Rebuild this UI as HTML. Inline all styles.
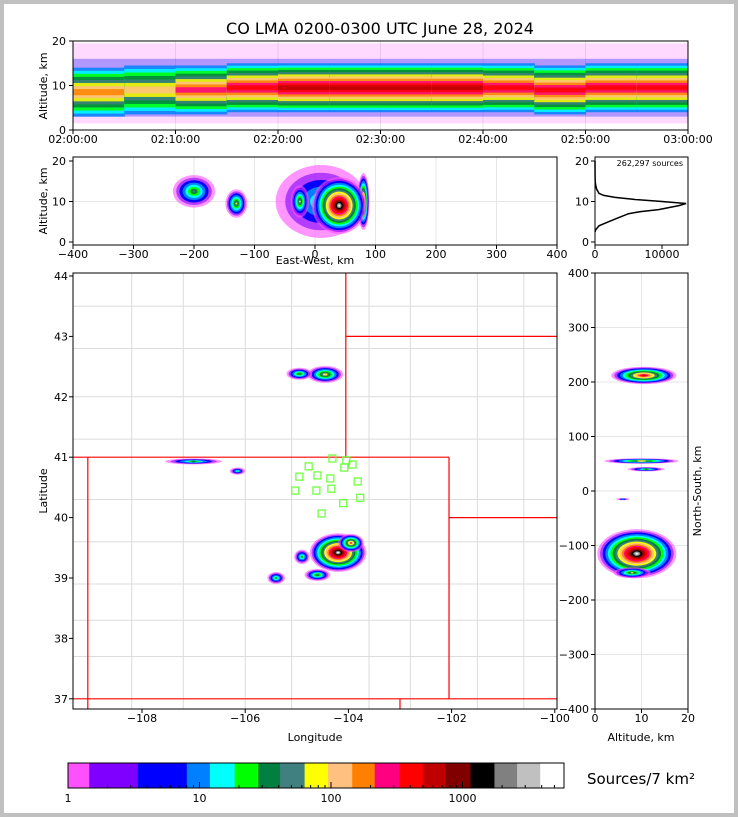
<!DOCTYPE html>
<html><head><meta charset="utf-8"><style>
html,body{margin:0;padding:0;background:#c0c0c0}
svg{display:block;font-family:"DejaVu Sans","Liberation Sans",sans-serif}
</style></head><body>
<svg id="s" width="738" height="817" viewBox="0 0 738 817" xmlns="http://www.w3.org/2000/svg">
<rect x="0" y="0" width="738" height="817" fill="#c0c0c0"/>
<rect x="4" y="4" width="730" height="809" fill="#fff"/>
<text x="380" y="34" font-size="16" text-anchor="middle">CO LMA 0200-0300 UTC June 28, 2024</text>
<g id="g"></g>
</svg>
<script>
// ---- data ----
const colors=["#ff50ff","#8000ff","#0000ff","#0080ff","#00ffff","#00ff00","#008040","#408080","#ffff00","#ffc080","#ff8000","#ff0080","#ff0000","#c00000","#800000","#000000","#808080","#c0c0c0","#ffffff"];
const cbBounds=[1,1.45,3.4,8,12,18.5,28,41,63,95,145,215,330,500,740,1150,1750,2600,3900,5900];
const cbTicks=[1,10,100,1000];
const timeTicks=["02:00:00","02:10:00","02:20:00","02:30:00","02:40:00","02:50:00","03:00:00"];
const timeBins=[0,5,10,15,20,25,30,35,40,45,50,55];
const timeCoreLevel=[10,9,11,12,13,13,13,13,12,12,12,12];
const timeCoreAlt=[8.5,9,9,9.5,9.5,9.5,9.5,9.5,9.5,9,9.5,9.5];
const histAlt=[2.5,3,4,5,6,7,7.5,8,9,9.5,10,10.5,11,11.5,12,13,14,15,16,20];
const histCount=[0,100,600,2000,3500,5000,6800,9500,12500,13600,10000,6000,3000,1300,600,250,100,30,10,0];
// ew clusters: x km, alt km, half-width km, half-height km, peak level
const ewX=[-200,-130,10,80,-25,40];
const ewAlt=[12.5,9.5,10,10,10,9];
const ewRx=[35,18,75,10,15,45];
const ewRy=[4,3.5,9,7,4,7];
const ewPeak=[7,8,5,13,8,18];
// map clusters: lon, lat, rlon, rlat, peak
const mLon=[-104.45,-104.95,-107.0,-106.15,-104.2,-104.9,-105.4,-104.6,-103.95];
const mLat=[42.37,42.38,40.93,40.77,39.42,39.35,39.0,39.05,39.58];
const mRlon=[0.35,0.25,0.55,0.15,0.55,0.15,0.17,0.25,0.25];
const mRlat=[0.14,0.1,0.05,0.06,0.32,0.12,0.1,0.1,0.15];
const mPeak=[9,7,6,5,18,6,6,7,11];
// stations
const stLon=[-104.30,-104.03,-104.76,-104.07,-103.91,-104.94,-104.59,-104.34,-103.81,-105.02,-104.61,-104.32,-103.76,-104.09,-104.51];
const stLat=[40.97,40.94,40.84,40.82,40.87,40.67,40.69,40.64,40.59,40.44,40.44,40.47,40.32,40.23,40.06];
// ns clusters: alt, ns, ralt, rns, peak
const nsAlt=[10.5,10,11,6,9,8];
const nsNs=[212,55,40,-15,-115,-150];
const nsRa=[7,8,4,1.5,8.5,4];
const nsRn=[16,5,4,2,45,10];
const nsPeak=[13,9,6,3,18,8];

// ---- scales ----
const tx=m=>73+m*615/60, ty=a=>130-a*4.45;
const ex=k=>315+k*0.605, ey=a=>242-a*4.05;
const hx=c=>595+c*0.0067;
const mx=l=>142+(l+108)*51.6, my=l=>276+(44-l)*60.4;
const rx=a=>595+a*4.65, ry=n=>491-n*0.545;
const cx=v=>68+Math.log10(v)*131.5;

const NS="http://www.w3.org/2000/svg";
const G=document.getElementById('g');
function mk(tag,at,parent){const e=document.createElementNS(NS,tag);for(const k in at)e.setAttribute(k,at[k]);(parent||G).appendChild(e);return e;}
function txt(x,y,s,size,anchor,parent){const e=mk('text',{x:x,y:y,'font-size':size||11,'text-anchor':anchor||'middle'},parent);e.textContent=s;return e;}
function blob(cxp,cyp,rxp,ryp,peak,parent){
  for(let k=0;k<=peak;k++){
    const f=Math.pow(1-k/(peak+1),1.3);
    const e=mk('ellipse',{cx:cxp,cy:cyp,rx:Math.max(rxp*f,0.8),ry:Math.max(ryp*f,0.8),fill:colors[k],opacity:k<2?0.6:1},parent);
    
    
  }
}
function clip(id,x,y,w,h){const d=mk('clipPath',{id:id});mk('rect',{x:x,y:y,width:w,height:h},d);}
function frame(x,y,w,h,name){const e=mk('rect',{x:x,y:y,width:w,height:h,fill:'none',stroke:'#000','stroke-width':1});}

// ---- top panel ----
clip('c1',73,41,615,89);
const g1=mk('g',{'clip-path':'url(#c1)'});

[0,10,20,30,40,50,60].forEach(m=>mk('line',{x1:tx(m),x2:tx(m),y1:41,y2:130,stroke:'#e6e6e6'},g1));
mk('line',{x1:73,x2:688,y1:ty(10),y2:ty(10),stroke:'#e6e6e6'},g1);
mk('rect',{x:73,y:ty(19.5),width:615,height:ty(1.5)-ty(19.5),fill:'#ff50ff',opacity:0.22},g1);
mk('rect',{x:73,y:ty(16),width:615,height:ty(3)-ty(16),fill:'#0000ff',opacity:0.3},g1);
timeBins.forEach((t,i)=>{
  const lev=timeCoreLevel[i],a=timeCoreAlt[i];
  for(let k=3;k<=lev;k++){
    const h=5.5*Math.pow(1-(k-3)/(lev-2),1.0);
    const r=mk('rect',{x:tx(t),y:ty(a+h),width:tx(t+5)-tx(t)+0.5,height:ty(a-h)-ty(a+h),fill:colors[k],opacity:0.85},g1);
    
  }
});
frame(73,41,615,89,'time-panel-frame');
[0,10,20].forEach(a=>{mk('line',{x1:69,x2:73,y1:ty(a),y2:ty(a),stroke:'#000'});txt(66,ty(a)+4,String(a),11,'end');});
timeTicks.forEach((s,i)=>{mk('line',{x1:tx(i*10),x2:tx(i*10),y1:130,y2:134,stroke:'#000'});txt(tx(i*10),143,s,11);});
const yl1=txt(0,0,'Altitude, km',11);yl1.setAttribute('transform','translate(47,86) rotate(-90)');

// ---- EW panel ----
clip('c2',73,157,484,88);
const g2=mk('g',{'clip-path':'url(#c2)'});

[-400,-300,-200,-100,0,100,200,300,400].forEach(k=>mk('line',{x1:ex(k),x2:ex(k),y1:157,y2:245,stroke:'#e6e6e6'},g2));
mk('line',{x1:73,x2:557,y1:ey(10),y2:ey(10),stroke:'#e6e6e6'},g2);
ewX.forEach((k,i)=>blob(ex(k),ey(ewAlt[i]),ewRx[i]*0.605,ewRy[i]*4.05,ewPeak[i],g2));
frame(73,157,484,88,'ew-panel-frame');
[0,10,20].forEach(a=>{mk('line',{x1:69,x2:73,y1:ey(a),y2:ey(a),stroke:'#000'});txt(66,ey(a)+4,String(a),11,'end');});
[-400,-300,-200,-100,0,100,200,300,400].forEach(k=>{mk('line',{x1:ex(k),x2:ex(k),y1:245,y2:249,stroke:'#000'});txt(ex(k),258,k<0?'\u2212'+(-k):String(k),11);});
txt(315,264,'East-West, km',11);
const yl2=txt(0,0,'Altitude, km',11);yl2.setAttribute('transform','translate(47,201) rotate(-90)');

// ---- histogram ----
const g3=mk('g',{});
const pts=histAlt.map((a,i)=>hx(histCount[i]).toFixed(1)+','+ey(a).toFixed(1)).join(' ');
const pl=mk('polyline',{points:pts,fill:'none',stroke:'#000','stroke-width':1.5},g3);

frame(595,157,93,88,'histogram-frame');
[0,10,20].forEach(a=>{mk('line',{x1:591,x2:595,y1:ey(a),y2:ey(a),stroke:'#000'});txt(589,ey(a)+4,String(a),11,'end');});
[0,10000].forEach(c=>{mk('line',{x1:hx(c),x2:hx(c),y1:245,y2:249,stroke:'#000'});txt(hx(c),258,String(c),11);});
txt(683,166,'262,297 sources',8,'end');

// ---- map ----
clip('c4',73,273,484,436);
const g4=mk('g',{'clip-path':'url(#c4)'});

const countyH=[43.5,42.8,42.0,41.3,40.3,39.6,38.9,38.3,37.7];
const countyV=[-108.2,-107.2,-106.0,-105.1,-103.6,-102.8,-101.5,-100.6];
countyH.forEach(l=>mk('line',{x1:73,x2:557,y1:my(l),y2:my(l),stroke:'#dcdcdc','stroke-width':1},g4));
countyV.forEach(l=>mk('line',{x1:mx(l),x2:mx(l),y1:273,y2:709,stroke:'#dcdcdc','stroke-width':1},g4));
const red=[[-109.05,41,-102.05,41],[-109.4,41,-109.05,41],[-109.05,41,-109.05,36.8],[-102.05,41,-102.05,37],[-109.4,37,-99.9,37],[-104.05,44.1,-104.05,41],[-104.05,43,-99.9,43],[-102.05,40,-99.9,40],[-103,37,-103,36.8]];
red.forEach(r=>mk('line',{x1:mx(r[0]),y1:my(r[1]),x2:mx(r[2]),y2:my(r[3]),stroke:'#ff0000','stroke-width':1.2},g4));
mLon.forEach((l,i)=>blob(mx(l),my(mLat[i]),mRlon[i]*51.6,mRlat[i]*60.4,mPeak[i],g4));
stLon.forEach((l,i)=>{const r=mk('rect',{x:mx(l)-4,y:my(stLat[i])-4,width:7,height:7,fill:'none',stroke:'#66ff33','stroke-width':1.2},g4);});
frame(73,273,484,436,'map-frame');
[37,38,39,40,41,42,43,44].forEach(l=>{mk('line',{x1:69,x2:73,y1:my(l),y2:my(l),stroke:'#000'});txt(68,my(l)+4,String(l),11,'end');});
[-108,-106,-104,-102,-100].forEach(l=>{mk('line',{x1:mx(l),x2:mx(l),y1:709,y2:713,stroke:'#000'});txt(mx(l),722,'\u2212'+(-l),11);});
txt(315,741,'Longitude',11);
const yl4=txt(0,0,'Latitude',11);yl4.setAttribute('transform','translate(47,491) rotate(-90)');

// ---- NS panel ----
clip('c5',595,273,93,436);
const g5=mk('g',{'clip-path':'url(#c5)'});

[-400,-300,-200,-100,0,100,200,300,400].forEach(n=>mk('line',{x1:595,x2:688,y1:ry(n),y2:ry(n),stroke:'#e6e6e6'},g5));
mk('line',{x1:rx(10),x2:rx(10),y1:273,y2:709,stroke:'#e6e6e6'},g5);
nsAlt.forEach((a,i)=>blob(rx(a),ry(nsNs[i]),nsRa[i]*4.65,nsRn[i]*0.545,nsPeak[i],g5));
frame(595,273,93,436,'ns-panel-frame');
[-400,-300,-200,-100,0,100,200,300,400].forEach(n=>{mk('line',{x1:591,x2:595,y1:ry(n),y2:ry(n),stroke:'#000'});txt(589,ry(n)+4,n<0?'\u2212'+(-n):String(n),11,'end');});
[0,10,20].forEach(a=>{mk('line',{x1:rx(a),x2:rx(a),y1:709,y2:713,stroke:'#000'});txt(rx(a),722,String(a),11);});
txt(641,741,'Altitude, km',11);
const yl5=txt(0,0,'North-South, km',11);yl5.setAttribute('transform','translate(701,491) rotate(-90)');

// ---- colorbar ----
const g6=mk('g',{});
colors.forEach((c,i)=>{const r=mk('rect',{x:cx(cbBounds[i]),y:763,width:cx(cbBounds[i+1])-cx(cbBounds[i])+0.4,height:25,fill:c},g6);});
mk('rect',{x:68,y:763,width:496,height:25,fill:'none',stroke:'#000'},g6);
for(let d=0;d<4;d++)for(let m=1;m<10;m++){const v=m*Math.pow(10,d);if(v>5900)break;const x=cx(v);mk('line',{x1:x,x2:x,y1:788,y2:m==1?782:785,stroke:'#000'},g6);}
cbTicks.forEach(v=>txt(cx(v),802,String(v),11));
txt(641,784,'Sources/7 km²',15);
</script>
</body></html>
